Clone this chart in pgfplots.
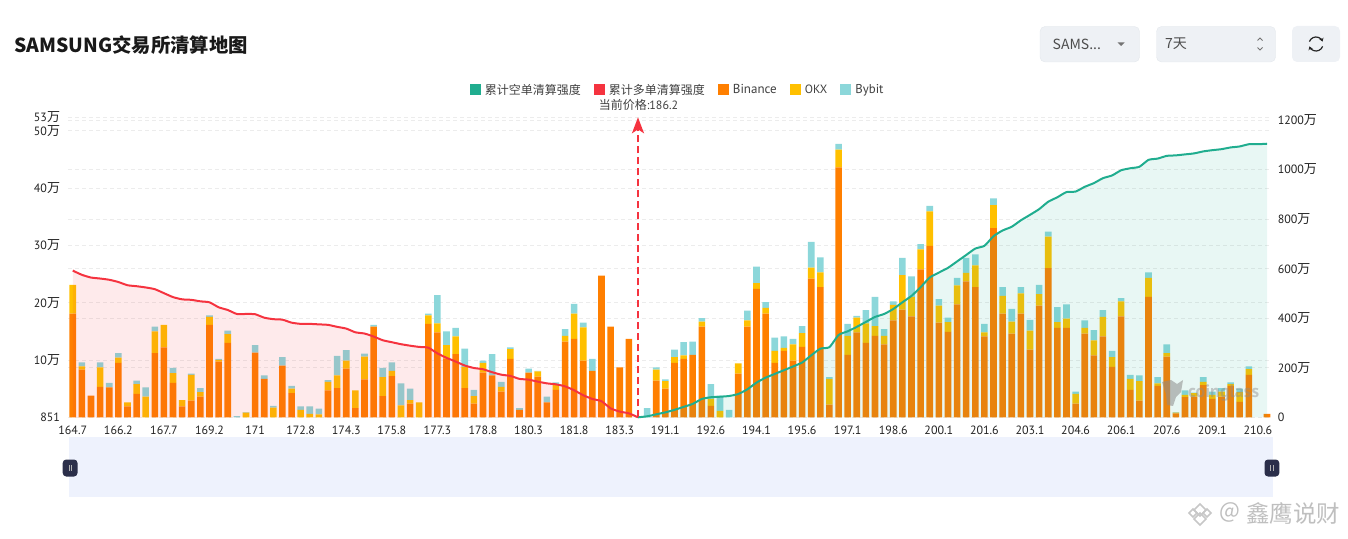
\documentclass[border=0pt]{standalone}
\usepackage{pgfplots}
\usepackage{pgfplotstable}
\usepackage{fontspec}
\pgfplotsset{compat=1.18}
\usetikzlibrary{arrows.meta}
\setmainfont{PT Sans}
\newfontfamily\cjk{Noto Sans CJK SC}
\newcommand{\wan}{{\cjk\fontsize{13}{13}\selectfont 万}}
\definecolor{cBin}{HTML}{FF7F00}
\definecolor{cOkx}{HTML}{FFC000}
\definecolor{cByb}{HTML}{8CD7DA}
\definecolor{cRed}{HTML}{F5333F}
\definecolor{cGrn}{HTML}{20AD8F}
\definecolor{cGrid}{HTML}{ECECEC}
\definecolor{cBtn}{HTML}{EEF1F5}
\definecolor{cBtnB}{HTML}{E3E7EC}
\definecolor{cTick}{HTML}{222222}
\definecolor{cZoom}{HTML}{EEF2FD}
\definecolor{cHandle}{HTML}{2B2F4A}
\pgfplotstableread{
i bin okx byb
0 18.1 5.0 0
1 8.3 0.6 0.7
2 3.8 0 0
3 5.3 3.4 0.9
4 5.2 0 0.8
5 9.5 0.9 0.8
6 1.9 0.7 0
7 4.1 1.7 0.6
8 0 3.6 1.6
9 11.2 3.8 0.8
10 12.2 3.9 0
11 6.0 1.7 0.9
12 1.9 1.1 0
13 2.9 4.5 0.2
14 3.6 0.8 0.7
15 16.1 1.4 0.3
16 9.7 0.3 0.2
17 13.0 1.5 0.6
18 0 0 0.2
19 0 0.8 0.1
20 11.3 0 1.3
21 6.7 0 0.6
22 0 1.7 0.3
23 9.0 0 1.5
24 4.2 0.8 0.5
25 0 1.3 0.6
26 0 0.6 1.3
27 0 0.5 1.0
28 4.7 1.5 0.3
29 5.1 2.2 3.4
30 8.5 1.4 1.8
31 1.6 3.1 0
32 6.6 4.0 0.5
33 15.8 0 0.3
34 3.7 3.3 1.6
35 7.2 0.9 1.5
36 0 2.1 3.8
37 2.4 0.6 2.0
38 0 2.6 0
39 16.3 1.5 0.3
40 14.8 1.6 4.9
41 10.3 2.3 2.4
42 11.0 3.1 1.5
43 5.1 3.7 3.2
44 2.4 1.3 1.1
45 7.8 1.7 0.4
46 7.3 0 3.7
47 4.5 0.8 0.9
48 10.2 1.7 0.3
49 1.3 0 0.3
50 7.8 0 0.7
51 7.1 0.9 0.1
52 2.6 0 1.0
53 4.8 1.0 0.3
54 13.2 1.0 1.2
55 13.7 4.4 1.7
56 9.9 5.8 0.8
57 8.1 0 2.1
58 24.7 0 0
59 15.8 0 0
60 8.7 0 0
61 13.7 0 0
62 0 0 0
63 0 0 1.6
64 6.4 1.9 0.4
65 5.0 1.3 0.3
66 9.5 1.0 1.3
67 10.2 0.6 2.3
68 10.9 0 2.3
69 15.8 0.9 0.6
70 2.0 1.2 2.6
71 0 1.1 2.7
72 0 0 1.3
73 7.6 1.8 0
74 15.8 1.1 1.7
75 22.4 1.0 2.9
76 18.1 1.0 1.0
77 9.5 2.1 2.3
78 11.6 0.5 2.0
79 9.9 2.8 1.0
80 12.3 2.4 1.2
81 24.2 1.9 4.5
82 22.7 2.6 2.6
83 2.2 4.5 0.3
84 43.6 3.1 1.0
85 10.9 3.3 2.1
86 14.8 2.6 0.3
87 13.0 3.4 2.3
88 14.2 1.7 5.1
89 12.7 1.5 1.2
90 16.9 2.7 0.6
91 18.8 6.0 3.0
92 17.6 3.4 3.6
93 25.8 3.5 0.9
94 29.9 6.0 1.0
95 16.5 3.0 1.1
96 14.9 1.7 0.8
97 19.7 3.3 1.3
98 23.7 1.5 2.6
99 22.7 3.8 1.9
100 14.1 0.7 1.5
101 33.0 4.0 1.2
102 18.1 3.1 1.5
103 14.6 2.1 2.2
104 18.1 3.5 1.1
105 11.8 3.3 1.9
106 19.5 2.0 1.6
107 26.0 5.5 0.9
108 15.6 1.0 2.6
109 15.6 1.6 2.5
110 2.4 1.7 0.4
111 14.6 1.0 1.3
112 10.8 2.6 1.8
113 14.1 3.4 1.2
114 8.8 1.7 1.1
115 17.6 2.6 0.6
116 4.8 1.9 0.7
117 2.9 3.4 1.0
118 21.0 3.3 1.0
119 5.5 0.4 1.1
120 10.6 0.6 1.5
121 0.7 0.1 0.1
122 3.5 0.4 0.8
123 3.6 0.6 0.1
124 5.6 0.6 0.8
125 3.2 0.7 0.6
126 3.6 0.9 0.6
127 5.5 0.3 0.3
128 2.7 1.7 0.6
129 7.4 1.0 0.5
130 0 0 0
131 0.6 0 0
}\barsdata
\pgfplotstableread{
i v
0 592
1 575
2 564
3 560
4 555
5 546
6 533
7 529
8 524
9 517
10 501
11 485
12 476
13 474
14 468
15 464
16 444
17 433
18 417
19 417
20 416
21 402
22 396
23 394
24 382
25 377
26 377
27 375
28 373
29 365
30 358
31 343
32 338
33 326
34 311
35 303
36 295
37 289
38 284
39 281
40 258
41 240
42 225
43 209
44 199
45 194
46 182
47 172
48 167
49 155
50 152
51 144
52 137
53 133
54 125
55 109
56 89
57 74
58 65
59 36
60 23
61 16
62 0
}\longdata
\pgfplotstableread{
i v
62 0
63 4
64 12
65 20
66 30
67 42
68 54
69 74
70 81
71 83
72 86
73 94
74 113
75 140
76 160
77 175
78 190
79 205
80 221
81 250
82 277
83 283
84 332
85 347
86 365
87 385
88 405
89 417
90 437
91 464
92 490
93 525
94 564
95 584
96 603
97 629
98 655
99 681
100 692
101 731
102 754
103 769
104 795
105 817
106 840
107 870
108 888
109 909
110 911
111 930
112 945
113 965
114 976
115 997
116 1005
117 1011
118 1039
119 1044
120 1055
121 1057
122 1061
123 1065
124 1073
125 1078
126 1082
127 1089
128 1093
129 1102
130 1102
131 1104
}\shortdata
\pgfplotsset{
  sq/.style={legend image code/.code={\path[##1,draw=none] (0pt,-5.5pt) rectangle (11pt,5.5pt);}},
  baseax/.style={
    scale only axis, width=1203.4pt, height=300pt,
    at={(68.2pt,120.7pt)}, anchor=south west,
    xmin=-0.5, xmax=131.5,
    tick style={draw=none},
    axis line style={draw=none},
    tick label style={font=\fontsize{12}{12}\selectfont, text=cTick},
  }
}
\begin{document}
\begin{tikzpicture}
\path[use as bounding box] (0pt,0pt) rectangle (1348pt,538pt);
\begin{scope}[x=1pt,y=-1pt,shift={(0pt,538pt)}]
  % title
  \node[anchor=west,inner sep=0pt,text=black!90] at (14,45) {\cjk\bfseries\fontsize{19.35}{20}\selectfont SAMSUNG交易所清算地图};
  % controls
  \draw[cBtnB,fill=cBtn,rounded corners=5pt] (1040,26.5) rectangle (1139.5,62);
  \draw[cBtnB,fill=cBtn,rounded corners=5pt] (1156.5,26.5) rectangle (1275.5,62);
  \fill[cBtn,rounded corners=5pt] (1292,26) rectangle (1340,62);
  \node[anchor=west,inner sep=0pt,text=black!70] at (1052.5,44) {\cjk\fontsize{14}{14}\selectfont SAMS...};
  \node[anchor=west,inner sep=0pt,text=black!70] at (1165,44) {\cjk\fontsize{14}{14}\selectfont 7天};
  \fill[black!55] (1117.5,42.5) -- (1124.5,42.5) -- (1121,46) -- cycle;
  \draw[black!55,line width=0.8pt] (1257.5,40.5) -- (1260,38) -- (1262.5,40.5);
  \draw[black!55,line width=0.8pt] (1257.5,47.5) -- (1260,50) -- (1262.5,47.5);
  \draw[black!85,line width=1.2pt,-{Stealth[length=3.5pt,width=4.5pt]}] (1309.4,41.6) arc[start angle=200,end angle=340,radius=7];
  \draw[black!85,line width=1.2pt,-{Stealth[length=3.5pt,width=4.5pt]}] (1322.6,46.4) arc[start angle=20,end angle=160,radius=7];
  % data zoom slider
  \fill[cZoom] (69,437) rectangle (1273,497);
  \fill[cHandle,rounded corners=3.5pt] (62.7,459.5) rectangle (77.5,476.5);
  \fill[cHandle,rounded corners=3.5pt] (1264.5,459.5) rectangle (1279.3,476.5);
  \foreach \xx in {68.8,71.4,1270.6,1273.2} \draw[white!70!black,line width=0.6pt] (\xx,465) -- (\xx,471);
\end{scope}

% bars
\begin{axis}[baseax,
  ybar stacked, bar width=6.6pt,
  ymin=0, ymax=52.33,
  xtick={0,5,...,130},
  xticklabels={164.7,166.2,167.7,169.2,171,172.8,174.3,175.8,177.3,178.8,180.3,181.8,183.3,191.1,192.6,194.1,195.6,197.1,198.6,200.1,201.6,203.1,204.6,206.1,207.6,209.1,210.6},
  ytick={0,10,20,30,40,50,52.33},
  yticklabels={851,{10\wan},{20\wan},{30\wan},{40\wan},{50\wan},{53\wan}},
  extra y ticks={8.645,17.29,25.93,34.58,43.22,51.87},
  extra y tick labels={},
  extra y tick style={grid=major},
  ymajorgrids,
  grid style={cGrid,dash pattern=on 4pt off 3pt,line width=0.8pt},
  yticklabel style={inner sep=0pt,xshift=-8pt},
  xticklabel style={inner sep=0pt,yshift=-8pt},
  legend columns=5,
  legend style={at={(0.5065,1.091)},anchor=center,draw=none,fill=none,
    font=\fontsize{12}{12}\selectfont,text=black!75,inner sep=0pt,
    /tikz/every even column/.append style={column sep=11pt},
    cells={anchor=west}},
]
\addlegendimage{sq,fill=cGrn}
\addlegendentry{\hspace{2pt}\cjk 累计空单清算强度}
\addlegendimage{sq,fill=cRed}
\addlegendentry{\hspace{2pt}\cjk 累计多单清算强度}
\addplot[sq,fill=cBin,draw=none] table[x=i,y=bin] {\barsdata};
\addlegendentry{\hspace{2pt}\fontsize{13}{13}\selectfont Binance}
\addplot[sq,fill=cOkx,draw=none] table[x=i,y=okx] {\barsdata};
\addlegendentry{\hspace{2pt}OKX}
\addplot[sq,fill=cByb,draw=none] table[x=i,y=byb] {\barsdata};
\addlegendentry{\hspace{2pt}\fontsize{12.8}{13}\selectfont Bybit}
\end{axis}

% cumulative lines
\begin{axis}[baseax,
  ymin=0, ymax=1210.7,
  axis y line*=right, axis x line=none,
  ytick={0,200,400,600,800,1000,1200},
  yticklabels={0,{200\wan},{400\wan},{600\wan},{800\wan},{1000\wan},{1200\wan}},
  yticklabel style={inner sep=0pt,xshift=6pt},
  clip=false,
]
\addplot[fill=cRed,fill opacity=0.1,draw=none] table[x=i,y=v] {\longdata} \closedcycle;
\addplot[fill=cGrn,fill opacity=0.1,draw=none] table[x=i,y=v] {\shortdata} \closedcycle;
\addplot[cRed,line width=2pt,smooth,tension=0.35] table[x=i,y=v] {\longdata};
\addplot[cGrn,line width=2pt,smooth,tension=0.35] table[x=i,y=v] {\shortdata};
\addplot[cRed,line width=2.2pt,dash pattern=on 7pt off 4pt,-{Stealth[length=16pt,width=12pt,inset=4pt]}] coordinates {(62,0) (62,1210.7)};
\end{axis}

\begin{scope}[x=1pt,y=-1pt,shift={(0pt,538pt)}]
  \node[inner sep=0pt,text=black!75] at (638.5,105) {\fontsize{12}{12}\selectfont{\cjk 当前价格}:186.2};
  % coinglass watermark
  \fill[black!45,opacity=0.55] (1162,382) -- (1171,380) -- (1177,384) -- (1183,380) -- (1181,392) -- (1176,397) -- (1173,406) -- (1167,405) -- (1166,394) -- cycle;
  \node[anchor=west,inner sep=0pt,text=black!45,opacity=0.45] at (1188,393) {\fontsize{18}{18}\selectfont\bfseries coinglass};
  % author watermark
  \begin{scope}[black!22]
    \draw[line width=1.6pt] (1200,504) -- (1206,510) -- (1200,516) -- (1194,510) -- cycle;
    \draw[line width=1.6pt] (1189,513) -- (1193,509) -- (1197,513) -- (1193,517) -- cycle;
    \draw[line width=1.6pt] (1203,513) -- (1207,509) -- (1211,513) -- (1207,517) -- cycle;
    \draw[line width=1.6pt] (1200,513) -- (1206,519) -- (1200,525) -- (1194,519) -- cycle;
  \end{scope}
  \node[anchor=west,inner sep=0pt,text=black!25] at (1219,512) {\cjk\fontsize{22}{22}\selectfont @};
  \node[anchor=west,inner sep=0pt,text=black!25] at (1246,513) {\cjk\fontsize{23.5}{23.5}\selectfont 鑫鹰说财};
\end{scope}
\end{tikzpicture}
\end{document}
